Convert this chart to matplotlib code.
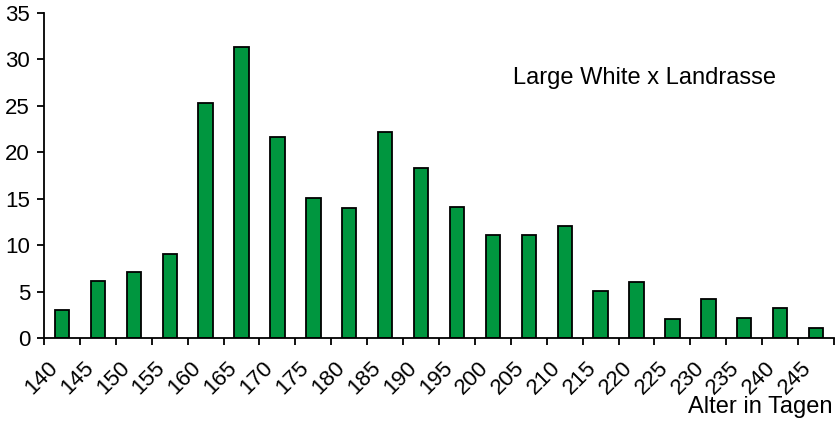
import numpy as np
import matplotlib
matplotlib.use("Agg")
import matplotlib.pyplot as plt
from matplotlib.transforms import ScaledTranslation

# Age classes (days) and counts
age_labels = ["140", "145", "150", "155", "160", "165", "170", "175", "180", "185", "190",
              "195", "200", "205", "210", "215", "220", "225", "230", "235", "240", "245"]
counts = [3.0, 6.1, 7.1, 9.1, 25.3, 31.3, 21.7, 15.1, 14.0, 22.2, 18.3,
          14.1, 11.05, 11.05, 12.1, 5.1, 6.0, 2.0, 4.2, 2.15, 3.2, 1.1]
title = "Large White x Landrasse"
xlabel = "Alter in Tagen"

plt.rcParams["font.family"] = ["Liberation Sans", "DejaVu Sans"]


def main():
    fig = plt.figure(figsize=(8.39, 4.24), dpi=100)
    ax = fig.add_axes([44 / 839, 1 - 338 / 424, 790 / 839, 325 / 424])

    n = len(counts)
    pos = np.arange(n) + 0.5
    ax.bar(pos, counts, width=0.4, color="#00963F", edgecolor="black", linewidth=1.3)

    ax.set_xlim(0, n)
    ax.set_ylim(0, 35)
    ax.set_yticks(np.arange(0, 36, 5))
    ax.set_xticks(np.arange(n + 1))
    ax.set_xticklabels(age_labels + [""])

    for s in ["top", "right"]:
        ax.spines[s].set_visible(False)
    for s in ["left", "bottom"]:
        ax.spines[s].set_linewidth(1.3)
    ax.tick_params(direction="out", length=5, width=1.3, labelsize=16)
    ax.tick_params(axis="y", pad=5)

    # rotated labels sit with their upper right end just right of the tick
    off = ScaledTranslation(3 / 100, -8 / 100, fig.dpi_scale_trans)
    for lab in ax.get_xticklabels():
        lab.set_rotation(45)
        lab.set_ha("right")
        lab.set_rotation_mode("anchor")
        lab.set_transform(lab.get_transform() + off)

    ax.text(0.594, 0.8, title, transform=ax.transAxes, fontsize=17, va="center", ha="left")
    fig.text(833 / 839, 1 - 407 / 424, xlabel, fontsize=17, ha="right", va="center")

    fig.savefig("out.png", dpi=100)


if __name__ == "__main__":
    main()
